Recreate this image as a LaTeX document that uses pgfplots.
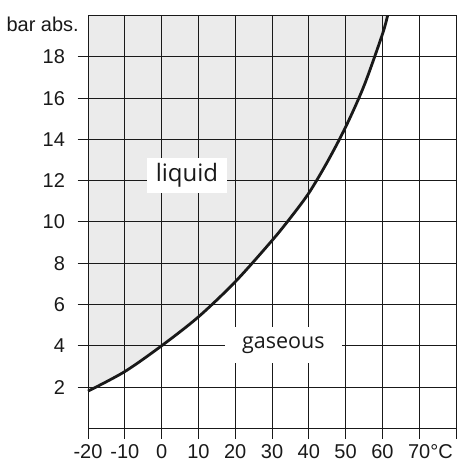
\documentclass[border=0pt]{standalone}
\usepackage{fontspec}
\setmainfont{Liberation Sans}
\newfontfamily\labfont{Open Sans}
\usepackage{pgfplots}
\pgfplotsset{compat=1.18}
\usepgfplotslibrary{fillbetween}
\begin{document}
\begin{tikzpicture}
\begin{axis}[
  set layers,
  fill between/on layer=axis background,
  scale only axis,
  width=368pt, height=412.6pt,
  xmin=-20, xmax=80, ymin=0, ymax=20,
  xtick={-20,-10,0,10,20,30,40,50,60,70,80},
  xticklabels={-20,-10,0,10,20,30,40,50,60,70\rlap{°C},},
  ytick={2,4,6,8,10,12,14,16,18},
  /pgf/number format/assume math mode=true,
  tick align=outside,
  major tick length=10.5pt,
  xtick pos=bottom, ytick pos=left,
  grid=major,
  major grid style={black!90, line width=1pt},
  axis line style={black!90, line width=1pt},
  tick style={black!90, line width=1pt},
  ticklabel style={font=\fontsize{20}{22}\selectfont, text=black!90},
  xticklabel style={yshift=-2pt},
  yticklabel style={xshift=-9pt},
  clip=false,
]
\addplot[name path=curve, draw=black!90, line width=2.8pt, smooth] coordinates {
  (-20,1.8) (-10,2.75) (0,4.0) (10,5.4) (20,7.1) (30,9.1) (35,10.2) (40,11.4) (45,12.9) (50,14.6) (55,16.6) (60,19.1) (61.4,20)
};
\addplot[name path=top, draw=none] coordinates {(-20,20) (61.4,20)};
\addplot[fill=black!8, draw=none] fill between[of=curve and top];
\node[fill=white, inner sep=0pt, minimum width=80pt, minimum height=35pt, font=\labfont\fontsize{24}{26}\selectfont, text=black!90] at (axis cs:6.9,12.25) {liquid};
\node[fill=white, inner sep=0pt, minimum width=117pt, minimum height=36pt, font=\labfont\fontsize{21.5}{24}\selectfont, text=black!90] at (axis cs:33.1,4.04) {gaseous};
\node[anchor=east, inner sep=0pt, font=\fontsize{20}{22}\selectfont, text=black!90] at ([xshift=-9pt]axis cs:-20,19.6) {bar abs.};
\coordinate (bl) at (axis cs:-20,0);
\coordinate (tr) at (axis cs:80,20);
\end{axis}
\pgfresetboundingbox
\path ([shift={(-88pt,-35.7pt)}]bl) rectangle ([shift={(1pt,15.7pt)}]tr);
\end{tikzpicture}
\end{document}
